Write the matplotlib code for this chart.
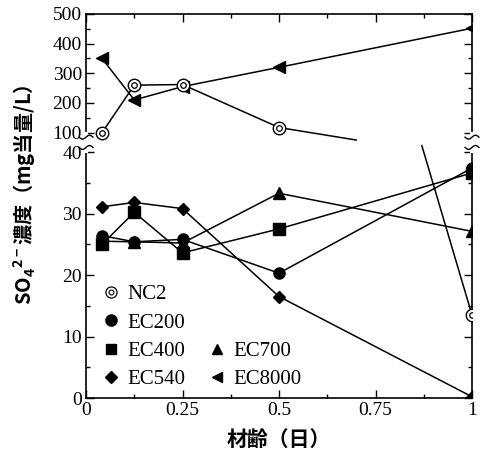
import numpy as np
import matplotlib
matplotlib.use("Agg")
import matplotlib.pyplot as plt
from matplotlib.lines import Line2D
from matplotlib.legend_handler import HandlerTuple

# ---------------- data ----------------
age_days = [1/24, 3/24, 6/24, 12/24, 1.0]

nc2 = [100, 260, 262, 117]          # first four points (upper range)
nc2_last = 13.5                     # value at 1 day (lower range)
nc2_tail_x = [0.5, 0.70]            # broken drawing of NC2 across the axis break
nc2_tail_y = [117, 77]
nc2_drop_x = [0.87, 1.0]
nc2_drop_y = [60, 13.5]

ec200 = [26.4, 25.4, 25.8, 20.3, 37.4]
ec400 = [25.0, 30.2, 23.6, 27.5, 36.6]
ec540 = [31.1, 31.8, 30.8, 16.5, 0.2]
ec700 = [25.5, 25.4, 25.2, 33.3, 27.1]
ec8000 = [350, 210, 255, 320, 452]

x_ticks = [0, 0.25, 0.5, 0.75, 1]
x_ticklabels = ["0", "0.25", "0.5", "0.75", "1"]
y_ticks = [0, 10, 20, 30, 40, 100, 200, 300, 400, 500]
y_minor = [5, 15, 25, 35, 150, 250, 350, 450]

# ---------------- broken y scale ----------------
K = 0.0482      # upper-range compression
GAP = 3.17      # gap (in lower units) between 40 and 100

def fwd(y):
    y = np.asarray(y, dtype=float)
    return np.where(y <= 40, y,
                    np.where(y >= 100, 40 + GAP + (y - 100) * K,
                             40 + (y - 40) * GAP / 60.0))

def inv(t):
    t = np.asarray(t, dtype=float)
    return np.where(t <= 40, t,
                    np.where(t >= 40 + GAP, 100 + (t - 40 - GAP) / K,
                             40 + (t - 40) * 60.0 / GAP))

serif = "Liberation Serif"
cjk = ["Noto Sans CJK JP", "DejaVu Sans"]
plt.rcParams["mathtext.default"] = "regular"

fig = plt.figure(figsize=(4.86, 4.65), dpi=100)
ax = fig.add_axes([86/486, 1 - 398/465, (472 - 86)/486, (398 - 14)/465])
ax.set_yscale("function", functions=(fwd, inv))
ax.set_ylim(0, 500)
ax.set_xlim(0, 1)

lw = 1.1
ms_kw = dict(color="black", lw=lw, mec="black", mfc="black")

# NC2
ax.plot(age_days[:4], nc2, color="black", lw=lw, marker="o", ms=9,
        mfc="white", mec="black", mew=1.0, zorder=3)
ax.plot(age_days[:4], nc2, ls="none", marker="o", ms=4,
        mfc="white", mec="black", mew=0.9, zorder=4)
ax.plot(nc2_tail_x, nc2_tail_y, color="black", lw=lw, zorder=2)
ax.plot(nc2_drop_x, nc2_drop_y, color="black", lw=lw, zorder=2)
ax.plot([age_days[4]], [nc2_last], ls="none", marker="o", ms=9,
        mfc="white", mec="black", mew=1.0, zorder=3)
ax.plot([age_days[4]], [nc2_last], ls="none", marker="o", ms=4,
        mfc="white", mec="black", mew=0.9, zorder=4)

ax.plot(age_days, ec700, marker="^", ms=8, **ms_kw)
ax.plot(age_days, ec200, marker="o", ms=8, **ms_kw)
ax.plot(age_days, ec400, marker="s", ms=8, **ms_kw)
ax.plot(age_days, ec540, marker="D", ms=6, **ms_kw)
ax.plot(age_days, ec8000, marker="<", ms=9, **ms_kw)

# ticks
ax.set_xticks(x_ticks)
ax.set_xticklabels(x_ticklabels)
ax.set_xticks([0.125, 0.375, 0.625, 0.875], minor=True)
ax.set_yticks(y_ticks)
ax.set_yticklabels([str(v) for v in y_ticks])
ax.set_yticks(y_minor, minor=True)
ax.tick_params(which="both", direction="in", top=True, right=True, width=1.0)
ax.tick_params(which="major", length=6, labelsize=14, pad=3)
ax.tick_params(which="minor", length=3)
for lab in ax.get_xticklabels() + ax.get_yticklabels():
    lab.set_fontfamily(serif)
for s in ax.spines.values():
    s.set_linewidth(1.2)

# axis break marks
t_lo, t_hi = fwd(40), fwd(100)
ylo_frac = (t_lo) / fwd(500)
yhi_frac = (t_hi) / fwd(500)
for xs in (0, 1):
    ax.plot([xs, xs], [ylo_frac + 0.004, yhi_frac - 0.004], transform=ax.transAxes,
            color="white", lw=3, clip_on=False, zorder=5)
    for yy in (ylo_frac + 0.012, yhi_frac - 0.012):
        u = np.linspace(-0.018, 0.018, 30)
        ax.plot(xs + u, yy + 0.005 * np.sin(u / 0.018 * np.pi), transform=ax.transAxes,
                color="black", lw=1.0, clip_on=False, zorder=6)

# legend
blank = Line2D([], [], ls="none", marker="none")
def h(m, ms, **kw):
    return Line2D([], [], ls="none", marker=m, ms=ms, color="black", **kw)
nc2_handle = (h("o", 8, mfc="white", mec="black", mew=0.9),
              h("o", 3.5, mfc="white", mec="black", mew=0.8))
handles = [
    nc2_handle,
    h("o", 8), h("s", 7), h("D", 6),
    blank, blank, h("^", 7), h("<", 7),
]
labels = ["NC2", "EC200", "EC400", "EC540", "", "", "EC700", "EC8000"]
leg = ax.legend(handles, labels, ncol=2, loc="lower left",
                bbox_to_anchor=(0.0, -0.015), frameon=False,
                prop={"family": serif, "size": 15},
                handler_map={tuple: HandlerTuple(ndivide=1, pad=0)},
                handlelength=1.0, handletextpad=0.3, columnspacing=1.0,
                labelspacing=0.42, borderaxespad=0.3)

ax.set_xlabel("材齢（日）", family=cjk, fontsize=15, fontweight="bold", labelpad=7)
ax.set_ylabel("SO$_4$$^{2-}$濃度（mg当量/L）", family=cjk, fontsize=14.5,
              fontweight="bold", labelpad=2)
ax.yaxis.set_label_coords(-0.125, 0.53)

fig.savefig("out.png", dpi=100)
